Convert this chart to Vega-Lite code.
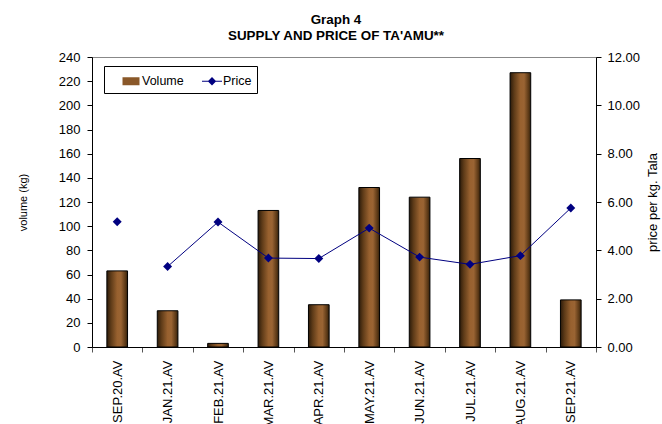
{
  "$schema": "https://vega.github.io/schema/vega-lite/v6.json",
  "width": 504,
  "height": 290,
  "autosize": "none",
  "padding": {"left": 92, "top": 57, "right": 66, "bottom": 77},
  "background": "white",
  "title": {
    "text": ["Graph 4", "SUPPLY AND PRICE OF TA'AMU**"],
    "font": "Liberation Sans",
    "fontSize": 13.4,
    "fontWeight": "bold",
    "lineHeight": 16,
    "anchor": "middle",
    "dx": -8,
    "offset": 9,
    "color": "#000"
  },
  "config": {
    "font": "Liberation Sans",
    "view": {"stroke": "#888888", "strokeWidth": 1},
    "axis": {
      "labelFont": "Liberation Sans",
      "titleFont": "Liberation Sans",
      "labelFontSize": 13,
      "labelColor": "#000",
      "titleColor": "#000",
      "titleFontWeight": "normal",
      "domainColor": "#000",
      "tickColor": "#000",
      "grid": false
    },
    "legend": {
      "orient": "none",
      "legendX": 12,
      "legendY": 9,
      "direction": "horizontal",
      "columns": 2,
      "strokeColor": "#000",
      "fillColor": "#fff",
      "padding": 5,
      "labelFont": "Liberation Sans",
      "labelFontSize": 12.5,
      "labelColor": "#000",
      "labelOffset": 1,
      "columnPadding": 6,
      "symbolSize": 400,
      "symbolOffset": 12,
      "symbolOpacity": 1,
      "symbolStrokeWidth": 0
    }
  },
  "data": {
    "values": [
      {"month": "SEP.20.AV", "volume": 63, "price": 5.18},
      {"month": "JAN.21.AV", "volume": 30, "price": 3.33},
      {"month": "FEB.21.AV", "volume": 3, "price": 5.17},
      {"month": "MAR.21.AV", "volume": 113, "price": 3.68},
      {"month": "APR.21.AV", "volume": 35, "price": 3.66},
      {"month": "MAY.21.AV", "volume": 132, "price": 4.92},
      {"month": "JUN.21.AV", "volume": 124, "price": 3.72},
      {"month": "JUL.21.AV", "volume": 156, "price": 3.42},
      {"month": "AUG.21.AV", "volume": 227, "price": 3.78},
      {"month": "SEP.21.AV", "volume": 39, "price": 5.75}
    ]
  },
  "encoding": {
    "x": {
      "field": "month",
      "type": "nominal",
      "sort": null,
      "scale": {"paddingInner": 0, "paddingOuter": 0},
      "axis": {
        "title": null,
        "labelAngle": 270,
        "labelPadding": 8,
        "tickBand": "extent",
        "tickSize": 5,
        "tickColor": "#555"
      }
    }
  },
  "layer": [
    {
      "mark": {
        "type": "bar",
        "width": {"band": 0.41},
        "stroke": "#000",
        "strokeWidth": 1,
        "fill": {
          "gradient": "linear",
          "x1": 0, "y1": 0, "x2": 1, "y2": 0,
          "stops": [
            {"offset": 0, "color": "#2c1b0a"},
            {"offset": 0.2, "color": "#5e3b18"},
            {"offset": 0.5, "color": "#98612f"},
            {"offset": 0.68, "color": "#9a6433"},
            {"offset": 0.9, "color": "#5a3816"},
            {"offset": 1, "color": "#30200c"}
          ]
        }
      },
      "encoding": {
        "y": {
          "field": "volume",
          "type": "quantitative",
          "scale": {"domain": [0, 240], "nice": false},
          "axis": {
            "title": "volume (kg)",
            "titleFontSize": 11,
            "titlePadding": 30,
            "values": [0, 20, 40, 60, 80, 100, 120, 140, 160, 180, 200, 220, 240],
            "tickSize": 5,
            "labelPadding": 7
          }
        }
      }
    },
    {
      "transform": [{"filter": "datum.month !== 'SEP.20.AV'"}],
      "mark": {"type": "line", "strokeWidth": 1, "color": "#000080"},
      "encoding": {
        "y": {"field": "price", "type": "quantitative", "scale": {"domain": [0, 12], "nice": false}, "axis": null}
      }
    },
    {
      "mark": {"type": "point", "shape": "diamond", "filled": true, "size": 80, "opacity": 1, "color": "#000080"},
      "encoding": {
        "y": {
          "field": "price",
          "type": "quantitative",
          "scale": {"domain": [0, 12], "nice": false},
          "axis": {
            "title": "price per kg. Tala",
            "orient": "right",
            "titleFontSize": 13,
            "titleAngle": 270,
            "titlePadding": 20,
            "format": ".2f",
            "values": [0, 2, 4, 6, 8, 10, 12],
            "tickSize": 5,
            "labelPadding": 6
          }
        }
      }
    },
    {
      "mark": {"type": "point", "filled": true, "opacity": 0},
      "encoding": {
        "y": {"field": "price", "type": "quantitative", "scale": {"domain": [0, 12], "nice": false}, "axis": null},
        "color": {
          "datum": "Price",
          "type": "nominal",
          "scale": {"domain": ["Volume", "Price"], "range": ["#8a5829", "#000080"]},
          "legend": {"title": null}
        },
        "shape": {
          "datum": "Price",
          "type": "nominal",
          "scale": {"domain": ["Volume", "Price"], "range": ["M-0.85,-0.4H0.85V0.4H-0.85Z", "M-1,-0.06H1V0.06H-1Z M0,-0.42L0.42,0L0,0.42L-0.42,0Z"]},
          "legend": {"title": null}
        }
      }
    }
  ],
  "resolve": {"scale": {"y": "independent"}}
}
